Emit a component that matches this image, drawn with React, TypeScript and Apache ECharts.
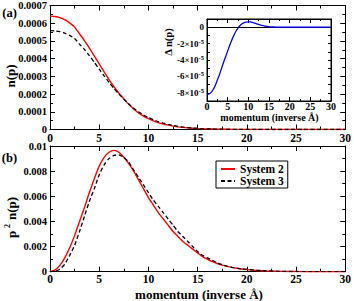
import React, { useEffect, useRef } from 'react';
import * as echarts from 'echarts';

// momentum grid (inverse Å)
const P = [0, 0.5, 1, 1.5, 2, 2.5, 3, 3.5, 4, 4.5, 5, 5.5, 6, 6.5, 7, 7.5, 8, 8.5, 9, 9.5,
  10, 10.5, 11, 11.5, 12, 12.5, 13, 13.5, 14, 14.5, 15, 15.5, 16, 16.5, 17, 17.5, 18, 18.5, 19, 19.5,
  20, 21, 22, 23, 24, 25, 26, 27, 28, 29, 30];

// (a) n(p), System 2
const N_SYS2 = [0.000640, 0.000638, 0.000632, 0.000620, 0.000602, 0.000578, 0.000540, 0.000502, 0.000460, 0.000415,
  0.000370, 0.000325, 0.000282, 0.000242, 0.000205, 0.000173, 0.000142, 0.000116, 0.000094, 0.000076,
  0.000061, 0.000049, 0.000039, 0.000031, 0.0000245, 0.000019, 0.000015, 0.0000117, 0.0000091, 0.0000071,
  0.0000055, 0.0000043, 0.0000033, 0.0000026, 0.000002, 0.0000015, 0.0000012, 0.0000009, 0.0000007, 0.0000005,
  0.0000004, 0.0000002, 0.0000001, 0.00000006, 0.00000003, 0.00000002, 0.00000001, 0, 0, 0, 0];

// (a) n(p), System 3
const N_SYS3 = [0.000558, 0.0005565, 0.0005525, 0.000544, 0.000531, 0.0005135, 0.000482, 0.0004515, 0.000417, 0.000379,
  0.000341, 0.000303, 0.0002665, 0.000232, 0.000200, 0.000172, 0.000144, 0.000120, 0.0000996, 0.0000823,
  0.0000676, 0.0000554, 0.0000448, 0.000036, 0.0000287, 0.0000224, 0.0000176, 0.0000137, 0.0000105, 0.0000081,
  0.0000061, 0.0000047, 0.0000036, 0.0000028, 0.0000021, 0.0000015, 0.0000012, 0.0000009, 0.0000007, 0.0000005,
  0.0000004, 0.0000002, 0.0000001, 0.00000006, 0.00000003, 0.00000002, 0.00000001, 0, 0, 0, 0];

// (a) inset: Δ n(p)
const DELTA_N = [-0.000082, -0.0000815, -0.0000795, -0.000076, -0.000071, -0.0000645, -0.000058, -0.0000505, -0.000043, -0.000036,
  -0.000029, -0.000022, -0.0000155, -0.00001, -0.000005, -0.000001, 0.000002, 0.0000042, 0.0000056, 0.0000063,
  0.0000066, 0.0000064, 0.0000058, 0.000005, 0.0000042, 0.0000034, 0.0000026, 0.000002, 0.0000014, 0.000001,
  0.0000006, 0.0000004, 0.0000003, 0.0000002, 0.0000001, 0, 0, 0, 0, 0,
  0, 0, 0, 0, 0, 0, 0, 0, 0, 0, 0];

// (b) p^2 n(p), System 2
const P2N_SYS2 = [0, 0.00012, 0.0005, 0.0011, 0.0019, 0.00287, 0.0040, 0.0051, 0.0063, 0.0074,
  0.0084, 0.0091, 0.0095, 0.00965, 0.0095, 0.0091, 0.0086, 0.0080, 0.0073, 0.0066,
  0.0059, 0.0053, 0.0047, 0.0042, 0.0037, 0.0032, 0.0028, 0.0024, 0.0021, 0.0018,
  0.0015, 0.0012, 0.0010, 0.0008, 0.00065, 0.00052, 0.00042, 0.00034, 0.00027, 0.00021,
  0.00017, 0.0001, 0.00006, 0.00004, 0.00002, 0.00001, 0, 0, 0, 0, 0];

// (b) p^2 n(p), System 3
const P2N_SYS3 = [0, 0.00003, 0.0002, 0.0006, 0.0013, 0.0021, 0.0032, 0.0044, 0.0056, 0.0066,
  0.0077, 0.0085, 0.0090, 0.00925, 0.0093, 0.0091, 0.0087, 0.0081, 0.0075, 0.0069,
  0.0063, 0.0057, 0.0052, 0.0047, 0.0042, 0.0037, 0.0032, 0.0028, 0.0024, 0.0020,
  0.0016, 0.0013, 0.0011, 0.0009, 0.0007, 0.00055, 0.00044, 0.00035, 0.00028, 0.00022,
  0.00018, 0.00011, 0.00007, 0.00004, 0.00002, 0.00001, 0, 0, 0, 0, 0];

const SERIES_NAMES = ['System 2', 'System 3'];
const X_TICKS = { min: 0, max: 30, interval: 5 };

const FONT = '"Liberation Serif", "Times New Roman", Times, serif';
const RED = '#ff0000';
const BLACK = '#000000';
const BLUE = '#0000ff';
const DASH = [4, 2.5];

function pairs(ys: number[]) {
  return P.map((p, i) => [p, ys[i]]);
}

function xAxis(grid: number, position: 'bottom' | 'top', label: any, tickLen: number, minorLen: number) {
  return {
    type: 'value', gridIndex: grid, position,
    min: X_TICKS.min, max: X_TICKS.max, interval: X_TICKS.interval,
    axisLine: { show: true, onZero: false, lineStyle: { color: BLACK, width: 1 } },
    axisTick: { show: true, inside: true, length: tickLen, lineStyle: { color: BLACK, width: 1 } },
    minorTick: { show: true, splitNumber: 2, length: minorLen, lineStyle: { color: BLACK, width: 1 } },
    axisLabel: label,
    splitLine: { show: false },
    minorSplitLine: { show: false },
  };
}

function yAxis(grid: number, position: 'left' | 'right', min: number, max: number, interval: number,
  label: any, tickLen: number, minorLen: number, minor: boolean) {
  return {
    type: 'value', gridIndex: grid, position, min, max, interval,
    axisLine: { show: true, onZero: false, lineStyle: { color: BLACK, width: 1 } },
    axisTick: { show: true, inside: true, length: tickLen, lineStyle: { color: BLACK, width: 1 } },
    minorTick: { show: minor, splitNumber: 2, length: minorLen, lineStyle: { color: BLACK, width: 1 } },
    axisLabel: label,
    splitLine: { show: false },
    minorSplitLine: { show: false },
  };
}

const noLabel = { show: false };

export default function App() {
  const ref = useRef<HTMLDivElement>(null);
  useEffect(() => {
    const chart = echarts.init(ref.current!, null, { renderer: 'svg' });
    const labelBase = { color: BLACK, fontFamily: FONT, fontWeight: 'bold' };
    const option: any = {
      animation: false,
      backgroundColor: '#ffffff',
      textStyle: { fontFamily: FONT },
      grid: [
        { left: 50, top: 4, width: 297, height: 125.5, show: false },
        { left: 50, top: 146, width: 297, height: 125.7, show: false },
        { left: 207, top: 19, width: 124, height: 82, show: true, backgroundColor: '#ffffff', borderColor: BLACK, borderWidth: 1, z: 5 },
      ],
      xAxis: [
        xAxis(0, 'bottom', { ...labelBase, fontSize: 11.5, margin: 2 }, 5, 3),
        xAxis(0, 'top', noLabel, 5, 3),
        xAxis(1, 'bottom', { ...labelBase, fontSize: 11.5, margin: 1.5 }, 5, 3),
        xAxis(1, 'top', noLabel, 5, 3),
        { ...xAxis(2, 'bottom', { ...labelBase, fontSize: 10, margin: 0.5 }, 4, 2), z: 6 },
        { ...xAxis(2, 'top', noLabel, 4, 2), z: 6 },
      ],
      yAxis: [
        yAxis(0, 'left', 0, 0.0007, 0.0001,
          { ...labelBase, fontSize: 10.5, margin: 3, formatter: (v: number) => (v === 0 ? '0' : v.toFixed(4)) }, 5, 3, true),
        yAxis(0, 'right', 0, 0.0007, 0.0001, noLabel, 5, 3, true),
        yAxis(1, 'left', 0, 0.01, 0.002,
          { ...labelBase, fontSize: 10.5, margin: 3, formatter: (v: number) => (v === 0 ? '0' : String(parseFloat(v.toFixed(3)))) }, 5, 3, true),
        yAxis(1, 'right', 0, 0.01, 0.002, noLabel, 5, 3, true),
        {
          ...yAxis(2, 'left', -0.00009, 0.00001, 0.00001,
            {
              ...labelBase, fontSize: 9, margin: 3,
              formatter: (v: number) => {
                const k = Math.round(v / 0.00001);
                if (k % 2 !== 0) return '';
                if (k === 0) return '{a|0}';
                return `{a|${k}×10}{s|-5}`;
              },
              rich: {
                a: { fontFamily: FONT, fontWeight: 'bold', fontSize: 9, color: BLACK },
                s: { fontFamily: FONT, fontWeight: 'bold', fontSize: 6.5, color: BLACK, padding: [0, 0, 5, 0] },
              },
            }, 3, 2, false),
          z: 6,
        },
        { ...yAxis(2, 'right', -0.00009, 0.00001, 0.00001, noLabel, 3, 2, false), z: 6 },
      ],
      legend: {
        left: 216, top: 161,
        orient: 'vertical',
        data: SERIES_NAMES,
        itemWidth: 14, itemHeight: 8, itemGap: 0,
        padding: [2, 4, 1, 4],
        borderColor: BLACK, borderWidth: 1, borderRadius: 0,
        backgroundColor: '#ffffff',
        itemStyle: { opacity: 0 },
        textStyle: { color: BLACK, fontFamily: FONT, fontWeight: 'bold', fontSize: 11.5, lineHeight: 11.5 },
      },
      series: [
        {
          type: 'line', name: SERIES_NAMES[0], xAxisIndex: 0, yAxisIndex: 0, data: pairs(N_SYS2),
          symbol: 'none', showSymbol: false, smooth: 0.2,
          lineStyle: { color: RED, width: 1.4 }, itemStyle: { color: RED },
        },
        {
          type: 'line', name: SERIES_NAMES[1], xAxisIndex: 0, yAxisIndex: 0, data: pairs(N_SYS3),
          symbol: 'none', showSymbol: false, smooth: 0.2,
          lineStyle: { color: BLACK, width: 1.3, type: DASH }, itemStyle: { color: BLACK },
        },
        {
          type: 'line', name: SERIES_NAMES[0], xAxisIndex: 2, yAxisIndex: 2, data: pairs(P2N_SYS2),
          symbol: 'none', showSymbol: false, smooth: 0.2,
          lineStyle: { color: RED, width: 1.4 }, itemStyle: { color: RED },
        },
        {
          type: 'line', name: SERIES_NAMES[1], xAxisIndex: 2, yAxisIndex: 2, data: pairs(P2N_SYS3),
          symbol: 'none', showSymbol: false, smooth: 0.2,
          lineStyle: { color: BLACK, width: 1.3, type: DASH }, itemStyle: { color: BLACK },
        },
        {
          type: 'line', name: 'delta', xAxisIndex: 4, yAxisIndex: 4, data: pairs(DELTA_N),
          symbol: 'none', showSymbol: false, smooth: 0.2, z: 7,
          lineStyle: { color: BLUE, width: 1.3 }, itemStyle: { color: BLUE },
          markLine: {
            silent: true, symbol: 'none', label: { show: false },
            lineStyle: { color: BLACK, width: 1, type: 'solid' },
            data: [{ yAxis: 0 }],
          },
        },
      ],
      graphic: [
        { type: 'text', x: 9.5, y: 13, style: { text: '(a)', font: `bold 12.5px ${FONT}`, fill: BLACK, textAlign: 'center', textVerticalAlign: 'middle' } },
        { type: 'text', x: 9.5, y: 157.5, style: { text: '(b)', font: `bold 12.5px ${FONT}`, fill: BLACK, textAlign: 'center', textVerticalAlign: 'middle' } },
        { type: 'text', x: 10, y: 76, rotation: Math.PI / 2, style: { text: 'n(p)', font: `bold 13px ${FONT}`, fill: BLACK, textAlign: 'center', textVerticalAlign: 'middle' } },
        {
          type: 'group', x: 11.5, y: 218, rotation: Math.PI / 2,
          children: [
            { type: 'text', x: -20, y: 0, style: { text: 'p', font: `bold 13px ${FONT}`, fill: BLACK, textAlign: 'left', textVerticalAlign: 'middle' } },
            { type: 'text', x: -10, y: -4, style: { text: '2', font: `bold 8px ${FONT}`, fill: BLACK, textAlign: 'left', textVerticalAlign: 'middle' } },
            { type: 'text', x: -2, y: 0, style: { text: 'n(p)', font: `bold 13px ${FONT}`, fill: BLACK, textAlign: 'left', textVerticalAlign: 'middle' } },
          ],
        },
        { type: 'text', x: 168, y: 42, rotation: Math.PI / 2, z: 10, style: { text: 'Δ n(p)', font: `bold 10.5px ${FONT}`, fill: BLACK, textAlign: 'center', textVerticalAlign: 'middle' } },
        { type: 'text', x: 199, y: 294, style: { text: 'momentum (inverse Å)', font: `bold 13px ${FONT}`, fill: BLACK, textAlign: 'center', textVerticalAlign: 'middle' } },
        { type: 'text', x: 269.5, y: 117.5, z: 10, style: { text: 'momentum (inverse Å)', font: `bold 10px ${FONT}`, fill: BLACK, textAlign: 'center', textVerticalAlign: 'middle' } },
      ],
    };
    chart.setOption(option);
    return () => chart.dispose();
  }, []);
  return <div ref={ref} style={{ width: 354, height: 301, position: 'absolute', left: 0, top: 0 }} />;
}
